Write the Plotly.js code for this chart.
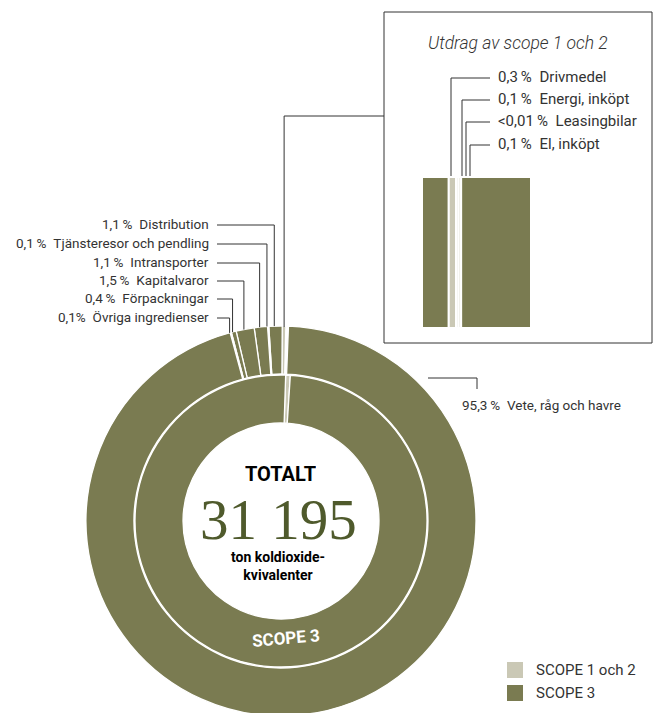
<!DOCTYPE html>
<html>
<head>
<meta charset="utf-8">
<script src="https://cdn.plot.ly/plotly-3.0.1.min.js"></script>
<style>
html,body{margin:0;padding:0;overflow:hidden;background:#fff;}
#chart{width:653px;height:720px;}
</style>
</head>
<body>
<div id="chart"></div>
<script>
// ---------- DATA ----------
const scope12Names  = ['El, inköpt', 'Leasingbilar', 'Energi, inköpt', 'Drivmedel'];
const scope12Values = [0.1, 0.01, 0.1, 0.3];
const scope12Labels = ['0,1\u2009%', '<0,01\u2009%', '0,1\u2009%', '0,3\u2009%'];

const scope3Names  = ['Distribution', 'Tjänsteresor och pendling', 'Intransporter', 'Kapitalvaror', 'Förpackningar', 'Övriga ingredienser', 'Vete, råg och havre'];
const scope3Values = [1.1, 0.1, 1.1, 1.5, 0.4, 0.1, 95.3];
const scope3Labels = ['1,1\u2009%', '0,1\u2009%', '1,1\u2009%', '1,5\u2009%', '0,4\u2009%', '0,1%', '95,3\u2009%'];

const scopeNames = ['SCOPE 1 och 2', 'SCOPE 3'];
const totalText = '31 195';

// ---------- STYLE / LAYOUT CONSTANTS ----------
const W = 653, H = 720;
const px = x => x / W;
const py = y => 1 - y / H;
const GREEN = '#7a7b51';
const LIGHT = '#cac8b5';
const TXT = '#333333';
const CX = 281, CY = 521, R = 195, RMID = 147, RINNER = 146, RHOLE = 98;

const sum = a => a.reduce((s, v) => s + v, 0);
const sum12 = sum(scope12Values), sum3 = sum(scope3Values), total = sum12 + sum3;
const rotation = sum12 / total * 360;

// outer ring
const outerLabels = scope12Names.concat(scope3Names);
const outerValues = scope12Values.concat(scope3Values);
const outerColors = scope12Values.map(() => LIGHT).concat(scope3Values.map(() => GREEN));

const outer = {
  type: 'pie', labels: outerLabels, values: outerValues, sort: false,
  direction: 'counterclockwise', rotation: rotation, hole: RMID / R,
  marker: {colors: outerColors, line: {color: '#ffffff', width: 1.3}},
  textinfo: 'none', hoverinfo: 'none', showlegend: false,
  domain: {x: [px(CX - R), px(CX + R)], y: [py(CY + R), py(CY - R)]}
};
const inner = {
  type: 'pie', labels: scopeNames, values: [sum12, sum3], sort: false,
  direction: 'counterclockwise', rotation: rotation, hole: RHOLE / RINNER,
  marker: {colors: [LIGHT, GREEN], line: {color: '#ffffff', width: 1.3}},
  textinfo: 'none', hoverinfo: 'none', showlegend: false,
  domain: {x: [px(CX - RINNER), px(CX + RINNER)], y: [py(CY + RINNER), py(CY - RINNER)]}
};

// inset (magnified top of ring): Distribution, scope 1&2 (clockwise order), Vete
const insetNames = [scope3Names[0]].concat(scope12Names.slice().reverse()).concat([scope3Names[6]]);
const insetValues = [scope3Values[0]].concat(scope12Values.slice().reverse()).concat([scope3Values[6]]);
const insetColors = [GREEN].concat(scope12Values.map(() => LIGHT)).concat([GREEN]);
const insetX = [];
let acc = 0;
insetValues.forEach(v => { insetX.push(acc + v / 2); acc += v; });
const insetBars = {
  type: 'bar', x: insetX, y: insetValues.map(() => 1), width: insetValues, base: 0,
  text: insetNames, textposition: 'none',
  marker: {color: insetColors, line: {color: '#ffffff', width: 2}},
  xaxis: 'x2', yaxis: 'y2', hoverinfo: 'none', showlegend: false
};
const insetRangeEnd = insetValues[0] + sum12 + 2.83;

// ---------- SHAPES ----------
const shapes = [];
const line = (pts, w) => {
  let d = 'M ' + pts.map(p => px(p[0]) + ',' + py(p[1])).join(' L ');
  shapes.push({type: 'path', xref: 'paper', yref: 'paper', path: d, line: {color: TXT, width: w || 1}});
};
const ringPoint = (cum) => {
  const ang = (rotation - cum / total * 360) * Math.PI / 180;
  return [CX + R * Math.sin(ang), CY - R * Math.cos(ang)];
};

// inset box
shapes.push({type: 'rect', xref: 'paper', yref: 'paper', x0: px(384), x1: px(652), y0: py(343), y1: py(12),
  line: {color: TXT, width: 1}, fillcolor: 'rgba(0,0,0,0)'});
// connector from scope 1&2 to inset
const p12 = ringPoint(sum12 / 2);
line([[p12[0], p12[1] + 1], [p12[0], 116], [384, 116]]);

// left leaders for small scope 3 categories
const leftRows = [224, 243, 262, 280, 298, 317];
const annotations = [];
const baseFont = {family: 'Roboto, sans-serif', size: 13.5, color: TXT, weight: 400};
const insetFont = {family: 'Roboto, sans-serif', size: 15, color: TXT, weight: 400};
let cum = sum12;
for (let i = 0; i < 6; i++) {
  const p = ringPoint(cum + scope3Values[i] / 2);
  cum += scope3Values[i];
  line([[p[0], p[1]], [p[0], leftRows[i] + 1], [217, leftRows[i] + 1]]);
  annotations.push({xref: 'paper', yref: 'paper', x: px(211), y: py(leftRows[i]), xanchor: 'right', yanchor: 'middle',
    text: scope3Labels[i] + '\u2002' + scope3Names[i], showarrow: false, font: baseFont});
}
// Vete leader
line([[428, 378], [477, 378], [477, 389]]);
annotations.push({xref: 'paper', yref: 'paper', x: px(460), y: py(405), xanchor: 'left', yanchor: 'middle',
  text: scope3Labels[6] + '\u2002' + scope3Names[6], showarrow: false, font: baseFont});

// inset leaders
const insetRows = [78, 100, 122, 145];
const insetLineX = [451, 462, 466, 470];
const s12rev = scope12Names.slice().reverse();
const l12rev = scope12Labels.slice().reverse();
for (let i = 0; i < 4; i++) {
  line([[insetLineX[i], 176], [insetLineX[i], insetRows[i]], [490, insetRows[i]]]);
  annotations.push({xref: 'paper', yref: 'paper', x: px(496), y: py(insetRows[i] - 1), xanchor: 'left', yanchor: 'middle',
    text: l12rev[i] + '\u2002' + s12rev[i], showarrow: false, font: insetFont});
}
annotations.push({xref: 'paper', yref: 'paper', x: px(426), y: py(43), xanchor: 'left', yanchor: 'middle',
  text: 'Utdrag av scope 1 och 2', showarrow: false,
  font: {family: 'Roboto, sans-serif', size: 17.5, color: TXT, style: 'italic', weight: 300}});

// centre texts
annotations.push({xref: 'paper', yref: 'paper', x: px(280), y: py(474), xanchor: 'center', yanchor: 'middle',
  height: 22, text: 'TOTALT', showarrow: false, font: {family: 'Roboto, sans-serif', size: 20, color: '#000', weight: 700}});
annotations.push({xref: 'paper', yref: 'paper', x: px(278), y: py(519), xanchor: 'center', yanchor: 'middle',
  height: 44, text: totalText, showarrow: false, font: {family: 'Liberation Serif, serif', size: 57, color: '#4f5a2c'}});
annotations.push({xref: 'paper', yref: 'paper', x: px(278), y: py(566), xanchor: 'center', yanchor: 'middle',
  text: 'ton koldioxide-<br>kvivalenter', showarrow: false,
  font: {family: 'Roboto, sans-serif', size: 14, color: '#000', weight: 700}});
annotations.push({xref: 'paper', yref: 'paper', x: px(286), y: py(638), xanchor: 'center', yanchor: 'middle',
  text: scopeNames[1], showarrow: false, textangle: -5,
  font: {family: 'Roboto, sans-serif', size: 17, color: '#fff', weight: 700}});

// legend
const legendRows = [670, 693];
const legendColors = [LIGHT, GREEN];
for (let i = 0; i < 2; i++) {
  shapes.push({type: 'rect', xref: 'paper', yref: 'paper', x0: px(507), x1: px(523),
    y0: py(legendRows[i] + 8), y1: py(legendRows[i] - 8), line: {width: 0}, fillcolor: legendColors[i]});
  annotations.push({xref: 'paper', yref: 'paper', x: px(534), y: py(legendRows[i]), xanchor: 'left', yanchor: 'middle',
    text: scopeNames[i], showarrow: false, font: {family: 'Roboto, sans-serif', size: 15, color: TXT, weight: 400}});
}

const layout = {
  width: W, height: H, margin: {l: 0, r: 0, t: 0, b: 0},
  paper_bgcolor: '#fff', plot_bgcolor: 'rgba(0,0,0,0)',
  showlegend: false, bargap: 0,
  xaxis2: {domain: [px(422), px(530)], range: [0, insetRangeEnd], visible: false, anchor: 'y2', fixedrange: true},
  yaxis2: {domain: [py(328), py(177)], range: [0, 1], visible: false, anchor: 'x2', fixedrange: true},
  shapes: shapes, annotations: annotations
};

Plotly.newPlot('chart', [outer, inner, insetBars], layout, {staticPlot: true, displayModeBar: false});
</script>
</body>
</html>
